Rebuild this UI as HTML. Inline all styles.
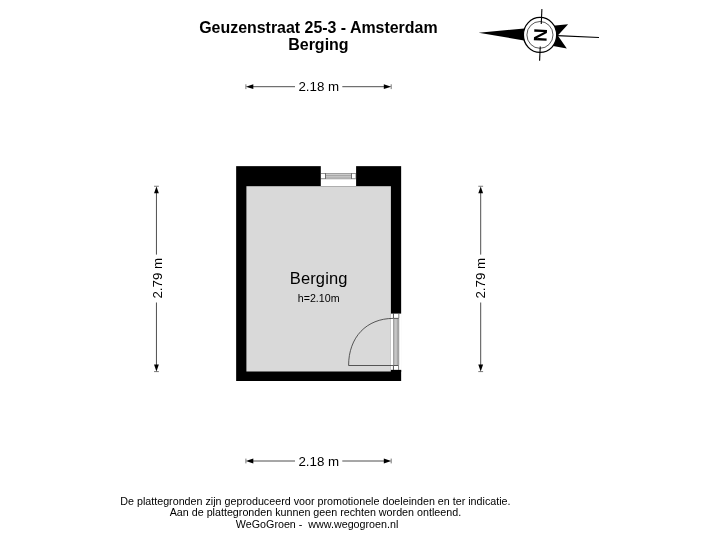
<!DOCTYPE html>
<html lang="nl">
<head>
<meta charset="utf-8">
<title>Geuzenstraat 25-3 - Amsterdam - Berging</title>
<style>
html,body{margin:0;padding:0;background:#fff;}
body{width:720px;height:540px;overflow:hidden;position:relative;font-family:"Liberation Sans",Arial,sans-serif;color:#000;}
svg{position:absolute;left:0;top:0;display:block;will-change:transform;}
text{font-family:"Liberation Sans",Arial,sans-serif;fill:#000;}
</style>
</head>
<body>
<svg width="720" height="540" viewBox="0 0 720 540">
  <!-- title -->
  <text x="318.4" y="32.5" font-size="15.93" font-weight="bold" text-anchor="middle">Geuzenstraat 25-3 - Amsterdam</text>
  <text x="318.4" y="50.3" font-size="16" font-weight="bold" text-anchor="middle">Berging</text>

  <!-- compass -->
  <g id="compass">
    <polygon points="478.6,32.7 540.6,27 540,43.3" fill="#000"/>
    <polygon points="545,26.6 568.1,24.2 557.8,35.5 566.8,48.6 545,44.4" fill="#000"/>
    <line x1="557" y1="35.6" x2="599" y2="37.5" stroke="#000" stroke-width="1.2"/>
    <ellipse cx="540.05" cy="34.95" rx="16.65" ry="17.5" fill="#fff" stroke="#000" stroke-width="1.3"/>
    <ellipse cx="539.95" cy="34.9" rx="13.05" ry="13.4" fill="#fff" stroke="#111" stroke-width="0.7"/>
    <line x1="541.25" y1="24" x2="541.9" y2="9" stroke="#000" stroke-width="1.1"/>
    <line x1="540.25" y1="46.4" x2="539.6" y2="60.7" stroke="#000" stroke-width="1.1"/>
    <text font-size="18.5" font-weight="bold" text-anchor="middle" transform="translate(540.25 35.1) rotate(-87.5) translate(0 6.6)">N</text>
  </g>

  <!-- room -->
  <rect x="236.15" y="166.15" width="165" height="214.85" fill="#000"/>
  <rect x="246.4" y="186.2" width="144.5" height="185.3" fill="#d9d9d9"/>
  <!-- window opening -->
  <rect x="320.8" y="165" width="35.3" height="21" fill="#fff"/>
  <g shape-rendering="crispEdges">
    <rect x="326" y="174" width="25" height="1" fill="#cccccc"/>
    <rect x="326" y="175" width="25" height="1" fill="#a8a8a8"/>
    <rect x="326" y="176" width="25" height="1" fill="#c4c4c4"/>
    <rect x="326" y="177" width="25" height="1" fill="#b6b6b6"/>
    <rect x="321" y="173" width="35" height="1" fill="#969696"/>
    <rect x="326" y="173" width="25" height="1" fill="#a0a0a0"/>
    <rect x="321" y="178" width="35" height="1" fill="#a4a4a4"/>
    <rect x="326" y="178" width="25" height="1" fill="#b0b0b0"/>
    <rect x="321" y="179" width="35" height="1" fill="#e6e6e6"/>
    <rect x="325" y="173" width="1" height="6" fill="#707070"/>
    <rect x="351" y="173" width="1" height="6" fill="#707070"/>
    <rect x="355" y="174" width="1" height="4" fill="#c0c0c0"/>
  </g>
  <!-- door opening -->
  <rect x="390.9" y="313.6" width="11" height="56.3" fill="#fff"/>
  <rect x="390.9" y="369.95" width="10.25" height="2" fill="#000"/>
  <g shape-rendering="crispEdges">
    <rect x="393" y="319" width="1" height="46" fill="#a0a0a0"/>
    <rect x="394" y="319" width="1" height="46" fill="#b8b8b8"/>
    <rect x="395" y="319" width="1" height="46" fill="#c6c6c6"/>
    <rect x="396" y="319" width="1" height="46" fill="#c0c0c0"/>
    <rect x="397" y="319" width="1" height="46" fill="#a8a8a8"/>
    <rect x="398" y="319" width="1" height="46" fill="#a2a2a2"/>
    <rect x="399" y="319" width="1" height="46" fill="#e8e8e8"/>
  </g>
  <g fill="none" stroke-width="0.7">
    <path d="M393.45,313.4 V318.4 H398.8" stroke="#2a2a2a" stroke-width="0.8"/>
    <path d="M398.8,313.4 V318.4" stroke="#606060" stroke-width="0.8"/>
    <path d="M393.45,370 V365.5 H398.6" stroke="#2a2a2a" stroke-width="0.8"/>
    <path d="M398.6,365.5 V370" stroke="#606060" stroke-width="0.8"/>
    <path d="M393.3,365.5 L348.6,365.5 C348.6,337.24 366.48,318.4 393.3,318.4" stroke="#333" stroke-width="0.8"/>
  </g>

  <text x="318.7" y="284.1" font-size="16.5" letter-spacing="0.15" text-anchor="middle">Berging</text>
  <text x="318.65" y="302.3" font-size="10.67" text-anchor="middle">h=2.10m</text>

  <!-- dimensions -->
  <g stroke="#222" stroke-width="0.8" fill="none">
    <line x1="250" y1="86.7" x2="295" y2="86.7"/><line x1="342.3" y1="86.7" x2="387" y2="86.7"/>
    <line x1="250" y1="461" x2="295" y2="461"/><line x1="342.3" y1="461" x2="387" y2="461"/>
    <line x1="156.45" y1="190" x2="156.45" y2="254.6"/><line x1="156.45" y1="302.5" x2="156.45" y2="367"/>
    <line x1="480.7" y1="190" x2="480.7" y2="254.6"/><line x1="480.7" y1="302.5" x2="480.7" y2="367"/>
  </g>
  <g stroke="#555" stroke-width="0.8">
    <line x1="245.9" y1="84.3" x2="245.9" y2="89.1"/><line x1="391.2" y1="84.3" x2="391.2" y2="89.1"/>
    <line x1="245.9" y1="458.6" x2="245.9" y2="463.4"/><line x1="391.2" y1="458.6" x2="391.2" y2="463.4"/>
    <line x1="154.05" y1="186.25" x2="158.85" y2="186.25"/><line x1="154.05" y1="371.6" x2="158.85" y2="371.6"/>
    <line x1="478.3" y1="186.25" x2="483.1" y2="186.25"/><line x1="478.3" y1="371.6" x2="483.1" y2="371.6"/>
  </g>
  <g fill="#000">
    <polygon points="245.9,86.7 253.3,84.3 253.3,89.1"/><polygon points="391.2,86.7 383.8,84.3 383.8,89.1"/>
    <polygon points="245.9,461 253.3,458.6 253.3,463.4"/><polygon points="391.2,461 383.8,458.6 383.8,463.4"/>
    <polygon points="156.45,186.4 154.05,193.2 158.85,193.2"/><polygon points="156.45,371.6 154.05,364.6 158.85,364.6"/>
    <polygon points="480.7,186.4 478.3,193.2 483.1,193.2"/><polygon points="480.7,371.6 478.3,364.6 483.1,364.6"/>
  </g>
  <text x="318.8" y="91.3" font-size="13.33" text-anchor="middle">2.18 m</text>
  <text x="318.8" y="465.6" font-size="13.33" text-anchor="middle">2.18 m</text>
  <text font-size="13.33" text-anchor="middle" transform="translate(161.5 278.2) rotate(-90)">2.79 m</text>
  <text font-size="13.33" text-anchor="middle" transform="translate(485.3 278.2) rotate(-90)">2.79 m</text>

  <!-- footer -->
  <text x="315.4" y="504.8" font-size="10.73" text-anchor="middle">De plattegronden zijn geproduceerd voor promotionele doeleinden en ter indicatie.</text>
  <text x="315.4" y="516.4" font-size="10.73" text-anchor="middle">Aan de plattegronden kunnen geen rechten worden ontleend.</text>
  <text x="317.1" y="528.3" font-size="10.73" text-anchor="middle" xml:space="preserve" style="white-space:pre">WeGoGroen -  www.wegogroen.nl</text>
</svg>
</body>
</html>
